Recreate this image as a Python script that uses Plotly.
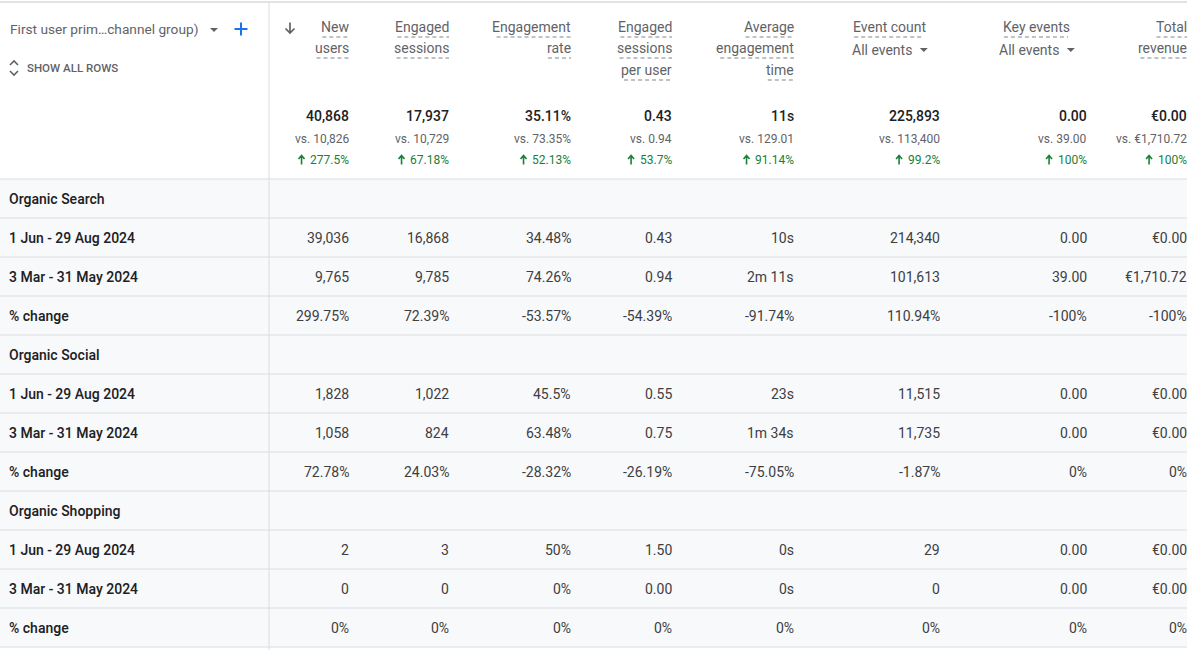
import plotly.graph_objects as go

# ---------------- data ----------------
metric_heading = [["New", "users"], ["Engaged", "sessions"], ["Engagement", "rate"],
                  ["Engaged", "sessions", "per user"], ["Average", "engagement", "time"],
                  ["Event count"], ["Key events"], ["Total", "revenue"]]
metric_selector = ["", "", "", "", "", "All events", "All events", ""]
totals = ["40,868", "17,937", "35.11%", "0.43", "11s", "225,893", "0.00", "€0.00"]
totals_prev = ["vs. 10,826", "vs. 10,729", "vs. 73.35%", "vs. 0.94", "vs. 129.01",
               "vs. 113,400", "vs. 39.00", "vs. €1,710.72"]
totals_change = ["277.5%", "67.18%", "52.13%", "53.7%", "91.14%", "99.2%", "100%", "100%"]

groups = ["Organic Search", "Organic Social", "Organic Shopping"]
period_labels = ["1 Jun - 29 Aug 2024", "3 Mar - 31 May 2024", "% change"]

search_current = ["39,036", "16,868", "34.48%", "0.43", "10s", "214,340", "0.00", "€0.00"]
search_previous = ["9,765", "9,785", "74.26%", "0.94", "2m 11s", "101,613", "39.00", "€1,710.72"]
search_change = ["299.75%", "72.39%", "-53.57%", "-54.39%", "-91.74%", "110.94%", "-100%", "-100%"]
social_current = ["1,828", "1,022", "45.5%", "0.55", "23s", "11,515", "0.00", "€0.00"]
social_previous = ["1,058", "824", "63.48%", "0.75", "1m 34s", "11,735", "0.00", "€0.00"]
social_change = ["72.78%", "24.03%", "-28.32%", "-26.19%", "-75.05%", "-1.87%", "0%", "0%"]
shopping_current = ["2", "3", "50%", "1.50", "0s", "29", "0.00", "€0.00"]
shopping_previous = ["0", "0", "0%", "0.00", "0s", "0", "0.00", "€0.00"]
shopping_change = ["0%", "0%", "0%", "0%", "0%", "0%", "0%", "0%"]

dimension_title = "First user prim…channel group)"
show_all_label = "SHOW ALL ROWS"

# ---------------- layout constants ----------------
W, H = 1198, 650
FONT = "Roboto, 'Noto Sans', sans-serif"
FONT_MED = "'Roboto Medium', Roboto, sans-serif"
col_right = [349, 449, 571, 672, 794, 940, 1087, 1187]
centered_heading = [False, False, False, False, False, True, True, False]
center_offset = 51
table_right = 1187
divider_x = 269
header_bottom = 179
row_h = 39
label_x = 9
heading_y = [27, 48, 70]
underline_dy = 10
selector_y = 50
total_y, prev_y, change_y = 116, 139, 160

C_DARK = "#202124"
C_NUM = "#3c4043"
C_GREY = "#5f6368"
C_GREEN = "#188038"
C_LINE = "#dadce0"
C_FILL = "#f8f9fa"

# Roboto advance widths (units / 2048) for underline / icon placement
ADV = {' ': 507, '%': 1464, ',': 393, '.': 527, '-': 553,
       '0': 1150, '1': 1150, '2': 1150, '3': 1150, '4': 1150, '5': 1150, '6': 1150,
       '7': 1150, '8': 1150, '9': 1150,
       'A': 1336, 'E': 1164, 'K': 1284, 'N': 1460, 'T': 1221,
       'a': 1088, 'b': 1122, 'c': 1046, 'd': 1126, 'e': 1058, 'f': 693, 'g': 1123,
       'h': 1100, 'i': 486, 'j': 478, 'k': 1013, 'l': 486, 'm': 1751, 'n': 1104,
       'o': 1141, 'p': 1122, 'q': 1131, 'r': 677, 's': 1031, 't': 653, 'u': 1100,
       'v': 968, 'w': 1502, 'x': 990, 'y': 945, 'z': 990}


def text_width(s, size):
    return sum(ADV.get(ch, 1100) for ch in s) / 2048 * size * 0.97


annotations = []
shapes = []


def add_text(x, y, text, size=14, color=C_NUM, anchor="right", family=FONT):
    annotations.append(dict(x=x, y=y, xref="x", yref="y", text=text, showarrow=False,
                            xanchor=anchor, yanchor="middle", borderpad=0, borderwidth=0,
                            font=dict(family=family, size=size, color=color)))


def add_line(x0, y0, x1, y1, color=C_LINE, width=1, dash="solid"):
    shapes.append(dict(type="line", xref="x", yref="y", x0=x0, y0=y0, x1=x1, y1=y1,
                       line=dict(color=color, width=width, dash=dash), layer="above"))


def add_path(path, color=C_GREY, width=1.6, fill=None):
    d = dict(type="path", xref="x", yref="y", path=path, layer="above")
    if fill:
        d.update(fillcolor=fill, line=dict(width=0))
    else:
        d.update(line=dict(color=color, width=width))
    shapes.append(d)


# body background
shapes.append(dict(type="rect", xref="x", yref="y", x0=0, x1=table_right,
                   y0=header_bottom, y1=header_bottom + 12 * row_h,
                   fillcolor=C_FILL, line=dict(width=0), layer="below"))

# grid lines
add_line(0, 2, table_right, 2, color="#e3e3e3", width=2)
add_line(0, header_bottom, table_right, header_bottom)
add_line(divider_x, 2, divider_x, H)

# ---------------- header: dimension column ----------------
add_text(10, 29, dimension_title, size=13.7, color=C_GREY, anchor="left")
add_path("M 210 28 L 218 28 L 214 32 Z", fill=C_GREY)
add_path("M 234.5 29 L 247.5 29 M 241 22.5 L 241 35.5", color="#1a73e8", width=2)
add_path("M 10 65 L 14 61 L 18 65")
add_path("M 10 71 L 14 75 L 18 71")
add_text(27, 68, show_all_label, size=11.5, color=C_GREY, anchor="left", family=FONT_MED)
add_path("M 290 22.5 L 290 33 M 285.5 28.5 L 290 33 L 294.5 28.5", width=1.7)

# ---------------- header: metric columns ----------------
for i, lines in enumerate(metric_heading):
    for j, word in enumerate(lines):
        wdt = text_width(word, 14)
        if centered_heading[i]:
            cx = col_right[i] - center_offset
            add_text(cx, heading_y[j], word, color=C_GREY, anchor="center")
            x0, x1 = cx - wdt / 2, cx + wdt / 2
        else:
            add_text(col_right[i], heading_y[j], word, color=C_GREY, anchor="right")
            x0, x1 = col_right[i] - wdt, col_right[i]
        add_line(x0, heading_y[j] + underline_dy, x1, heading_y[j] + underline_dy,
                 color="#80868b", width=1, dash="4px,3px")
    if metric_selector[i]:
        cx = col_right[i] - center_offset
        add_text(cx - 7, selector_y, metric_selector[i], color=C_GREY, anchor="center")
        tx = cx + text_width(metric_selector[i], 14) / 2 + 6
        add_path(f"M {tx - 4} {selector_y - 2} L {tx + 4} {selector_y - 2} L {tx} {selector_y + 2} Z",
                 fill=C_GREY)
    add_text(col_right[i], total_y, totals[i], size=14, color=C_DARK, family=FONT_MED)
    add_text(col_right[i], prev_y, totals_prev[i], size=12, color=C_GREY)
    add_text(col_right[i], change_y, totals_change[i], size=12, color=C_GREEN)
    ax = col_right[i] - text_width(totals_change[i], 12) - 10
    add_path(f"M {ax} {change_y + 4.5} L {ax} {change_y - 4} "
             f"M {ax - 3} {change_y - 1} L {ax} {change_y - 4.5} L {ax + 3} {change_y - 1}",
             color=C_GREEN, width=1.6)

# ---------------- body ----------------
group_rows = [
    [search_current, search_previous, search_change],
    [social_current, social_previous, social_change],
    [shopping_current, shopping_previous, shopping_change],
]
r = 0
for g, name in enumerate(groups):
    yc = header_bottom + (r + 0.5) * row_h
    add_text(label_x, yc, name, color=C_DARK, anchor="left", family=FONT_MED)
    r += 1
    add_line(0, header_bottom + r * row_h, table_right, header_bottom + r * row_h)
    for p, plabel in enumerate(period_labels):
        yc = header_bottom + (r + 0.5) * row_h
        add_text(label_x, yc, plabel, color=C_DARK, anchor="left", family=FONT_MED)
        for i, v in enumerate(group_rows[g][p]):
            add_text(col_right[i], yc, v, color=C_NUM)
        r += 1
        add_line(0, header_bottom + r * row_h, table_right, header_bottom + r * row_h)

fig = go.Figure()
fig.add_trace(go.Scatter(x=[0, W], y=[0, H], mode="markers",
                         marker=dict(opacity=0), hoverinfo="skip", showlegend=False))
fig.update_layout(
    width=W, height=H, margin=dict(l=0, r=0, t=0, b=0),
    paper_bgcolor="white", plot_bgcolor="white",
    xaxis=dict(range=[0, W], visible=False, fixedrange=True),
    yaxis=dict(range=[H, 0], visible=False, fixedrange=True),
    annotations=annotations, shapes=shapes, showlegend=False,
)
fig.write_html("out.html", config={"displayModeBar": False},
               post_script="document.body.style.margin='0';")
